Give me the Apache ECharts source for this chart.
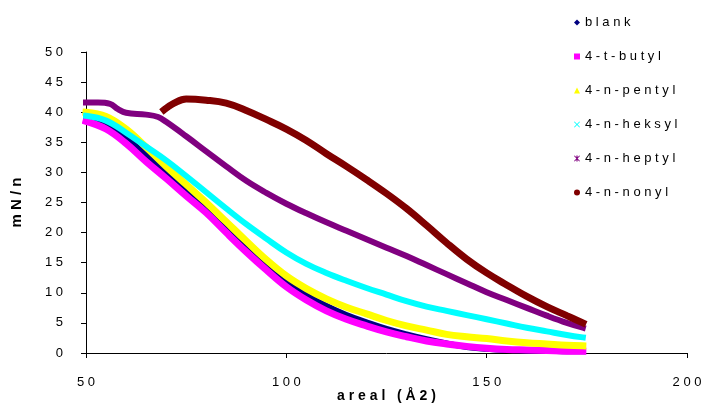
<!DOCTYPE html>
<html>
<head>
<meta charset="utf-8">
<script src="https://cdn.jsdelivr.net/npm/echarts@6/dist/echarts.min.js"></script>
<style>
  html, body { margin: 0; padding: 0; background: #fff; }
  #chart { width: 702px; height: 405px; }
</style>
</head>
<body>
<div id="chart"></div>
<script>
// series names as in the legend
var seriesNames = ['blank', '4-t-butyl', '4-n-pentyl', '4-n-heksyl', '4-n-heptyl', '4-n-nonyl'];

// x values (areal, Å2)
var xCommon = [50, 55, 60, 65, 70, 75, 80, 85, 90, 95, 100, 105, 110, 115, 120, 125, 130, 135, 140, 145, 150, 155, 160, 165, 170, 174];
var xHeptyl = [50, 53, 56, 58, 60, 65, 68, 70, 75, 80, 85, 90, 95, 100, 105, 110, 115, 120, 125, 130, 135, 140, 145, 150, 155, 160, 165, 170, 174];
var xNonyl = [69.5, 72, 75, 80, 85, 90, 95, 100, 105, 110, 115, 120, 125, 130, 135, 140, 145, 150, 155, 160, 165, 170, 174];

// y values (mN/n)
var yBlank   = [39.0, 38.0, 35.8, 32.8, 29.8, 26.9, 24.0, 20.8, 17.6, 14.6, 11.8, 9.6, 7.8, 6.3, 5.1, 4.0, 3.1, 2.3, 1.6, 1.0, 0.7, 0.5, 0.4, 0.4, 0.3, 0.3];
var yButyl   = [38.5, 37.2, 34.8, 31.8, 29.0, 26.1, 23.3, 20.0, 16.8, 13.8, 11.0, 8.8, 7.0, 5.6, 4.5, 3.5, 2.7, 2.0, 1.5, 1.1, 0.8, 0.6, 0.5, 0.4, 0.3, 0.3];
var yPentyl  = [40.0, 39.3, 37.2, 34.2, 31.0, 28.0, 25.0, 21.8, 18.6, 15.5, 12.8, 10.7, 9.0, 7.6, 6.5, 5.4, 4.5, 3.8, 3.1, 2.7, 2.4, 2.0, 1.7, 1.5, 1.3, 1.2];
var yHeksyl  = [39.4, 38.6, 36.6, 34.3, 32.0, 29.4, 26.7, 24.0, 21.4, 19.0, 16.7, 14.8, 13.3, 12.0, 10.8, 9.7, 8.6, 7.7, 7.0, 6.3, 5.6, 4.9, 4.2, 3.6, 3.0, 2.6];
var yHeptyl  = [41.6, 41.6, 41.4, 40.5, 39.9, 39.6, 39.2, 38.4, 36.0, 33.5, 31.0, 28.6, 26.6, 24.8, 23.2, 21.7, 20.3, 18.9, 17.5, 16.1, 14.6, 13.1, 11.6, 10.1, 8.8, 7.5, 6.2, 5.0, 4.2];
var yNonyl   = [40.4, 41.5, 42.2, 42.0, 41.5, 40.3, 38.8, 37.2, 35.3, 33.1, 31.0, 28.8, 26.5, 24.0, 21.2, 18.3, 15.6, 13.3, 11.3, 9.4, 7.7, 6.2, 5.0];

// axis ticks
var xTicks = { min: 50, max: 200, interval: 50 };
var yTicks = { min: 0, max: 50, interval: 5 };

var xName = 'areal (Å2)';
var yName = 'mN/n';

var colors = ['#000080', '#FF00FF', '#FFFF00', '#00FFFF', '#800080', '#800000'];
var icons = [
    'diamond',
    'rect',
    'triangle',
    'path://M0,1L1,0L5,4L9,0L10,1L6,5L10,9L9,10L5,6L1,10L0,9L4,5Z',
    'path://M0,1L1,0L4,3L4,0L6,0L6,3L9,0L10,1L6,5L10,9L9,10L6,7L6,10L4,10L4,7L1,10L0,9L4,5Z',
    'circle'
];
var widths = [6, 7, 7, 6, 6, 7];

function zip(xs, ys) {
    var out = [];
    for (var i = 0; i < xs.length; i++) {
        out.push([xs[i], ys[i]]);
    }
    return out;
}

// Excel-style spaced lettering
function sp(s) {
    return String(s).split('').join(' ');
}

var seriesX = [xCommon, xCommon, xCommon, xCommon, xHeptyl, xNonyl];
var seriesY = [yBlank, yButyl, yPentyl, yHeksyl, yHeptyl, yNonyl];

var font = "'Liberation Sans', Arial, sans-serif";

var chart = echarts.init(document.getElementById('chart'));

var series = [];
for (var i = 0; i < seriesNames.length; i++) {
    series.push({
        name: seriesNames[i],
        type: 'line',
        data: zip(seriesX[i], seriesY[i]),
        smooth: 0.4,
        showSymbol: false,
        symbol: 'none',
        animation: false,
        color: colors[i],
        lineStyle: { width: widths[i], color: colors[i], cap: 'square' }
    });
}

var legendData = [];
for (var j = 0; j < seriesNames.length; j++) {
    legendData.push({ name: seriesNames[j], icon: icons[j] });
}

chart.setOption({
    animation: false,
    backgroundColor: '#ffffff',
    grid: { left: 86, right: 15, top: 52, bottom: 52, outerBoundsMode: 'none', containLabel: false },
    legend: {
        orient: 'vertical',
        left: 569,
        top: 11,
        itemWidth: 6,
        itemHeight: 6,
        itemGap: 21,
        data: legendData,
        formatter: function (name) { return sp(name); },
        textStyle: { fontFamily: font, fontSize: 13, color: '#000' }
    },
    xAxis: {
        type: 'value',
        min: xTicks.min,
        max: xTicks.max,
        interval: xTicks.interval,
        name: sp(xName),
        nameLocation: 'middle',
        nameGap: 36,
        nameMoveOverlap: false,
        nameTextStyle: { fontFamily: font, fontSize: 14, fontWeight: 'bold', color: '#000' },
        axisLine: { show: true, lineStyle: { color: '#000', width: 1 } },
        axisTick: { show: true, inside: false, length: 5, lineStyle: { color: '#000' } },
        splitLine: { show: false },
        axisLabel: {
            margin: 23,
            fontFamily: font,
            fontSize: 13,
            color: '#000',
            formatter: function (v) { return sp(v); }
        }
    },
    yAxis: {
        type: 'value',
        min: yTicks.min,
        max: yTicks.max,
        interval: yTicks.interval,
        name: sp(yName),
        nameLocation: 'middle',
        nameGap: 62,
        nameRotate: 90,
        nameMoveOverlap: false,
        nameTextStyle: { fontFamily: font, fontSize: 15, fontWeight: 'bold', color: '#000' },
        axisLine: { show: true, lineStyle: { color: '#000', width: 1 } },
        axisTick: { show: true, inside: false, length: 5, lineStyle: { color: '#000' } },
        splitLine: { show: false },
        axisLabel: {
            margin: 23,
            fontFamily: font,
            fontSize: 13,
            color: '#000',
            formatter: function (v) { return sp(v); }
        }
    },
    series: series
});
</script>
</body>
</html>
